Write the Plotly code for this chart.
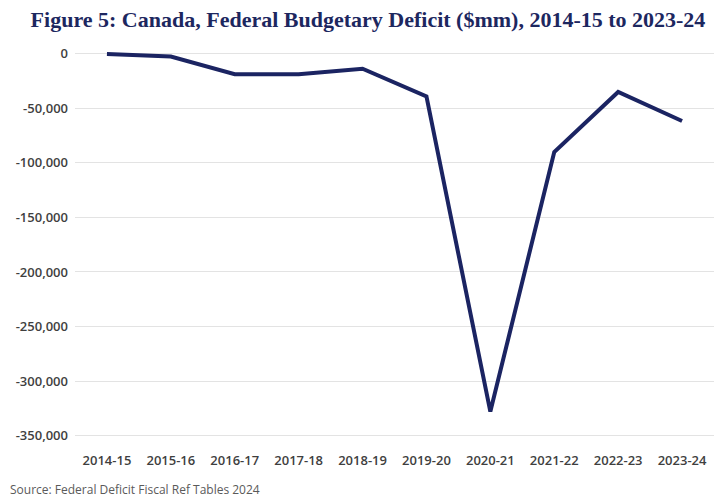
import plotly.graph_objects as go

years = ["2014-15", "2015-16", "2016-17", "2017-18", "2018-19",
         "2019-20", "2020-21", "2021-22", "2022-23", "2023-24"]
deficit = [-550, -2900, -19000, -19000, -14000, -39400, -327700, -90200, -35300, -61900]
y_ticks = [0, -50000, -100000, -150000, -200000, -250000, -300000, -350000]
y_tick_text = ["0", "-50,000", "-100,000", "-150,000", "-200,000", "-250,000", "-300,000", "-350,000"]

title_text = "Figure 5: Canada, Federal Budgetary Deficit ($mm), 2014-15 to 2023-24"
source_text = "Source: Federal Deficit Fiscal Ref Tables 2024"

fig = go.Figure()
fig.add_trace(go.Scatter(
    x=years, y=deficit, mode="lines",
    line=dict(color="#1b2462", width=4),
    hoverinfo="skip",
))

fig.update_layout(
    width=720, height=504,
    margin=dict(l=75, r=6, t=49, b=67),
    paper_bgcolor="white", plot_bgcolor="white",
    showlegend=False,
    title=dict(text="<b>" + title_text + "</b>", x=368/720, xanchor="center",
               y=0.962, yanchor="middle",
               font=dict(family="Liberation Serif, serif", size=22, color="#1d275f")),
    font=dict(family="Open Sans, sans-serif"),
)
fig.update_xaxes(
    type="category", range=[-0.5, 9.5], showgrid=False, showline=False, zeroline=False,
    ticks="", ticklabelstandoff=14,
    tickfont=dict(family="Open Sans", size=13, color="#3f3f3f", weight=600),
)
fig.update_yaxes(
    range=[-351000, 4000], tickvals=y_ticks, ticktext=y_tick_text,
    showgrid=True, gridcolor="#e3e3e3", gridwidth=1, zeroline=False, showline=False,
    ticks="", ticklabelstandoff=6,
    tickfont=dict(family="Open Sans", size=13, color="#3f3f3f", weight=600),
)
fig.add_annotation(text=source_text, xref="paper", yref="paper",
                   x=-67/639, y=-52/388, xanchor="left", yanchor="middle",
                   showarrow=False,
                   font=dict(family="Open Sans", size=12, color="#5a5a5a"))

fig.write_html("out.html", config={"displayModeBar": False},
               post_script="document.body.style.margin='0';")
